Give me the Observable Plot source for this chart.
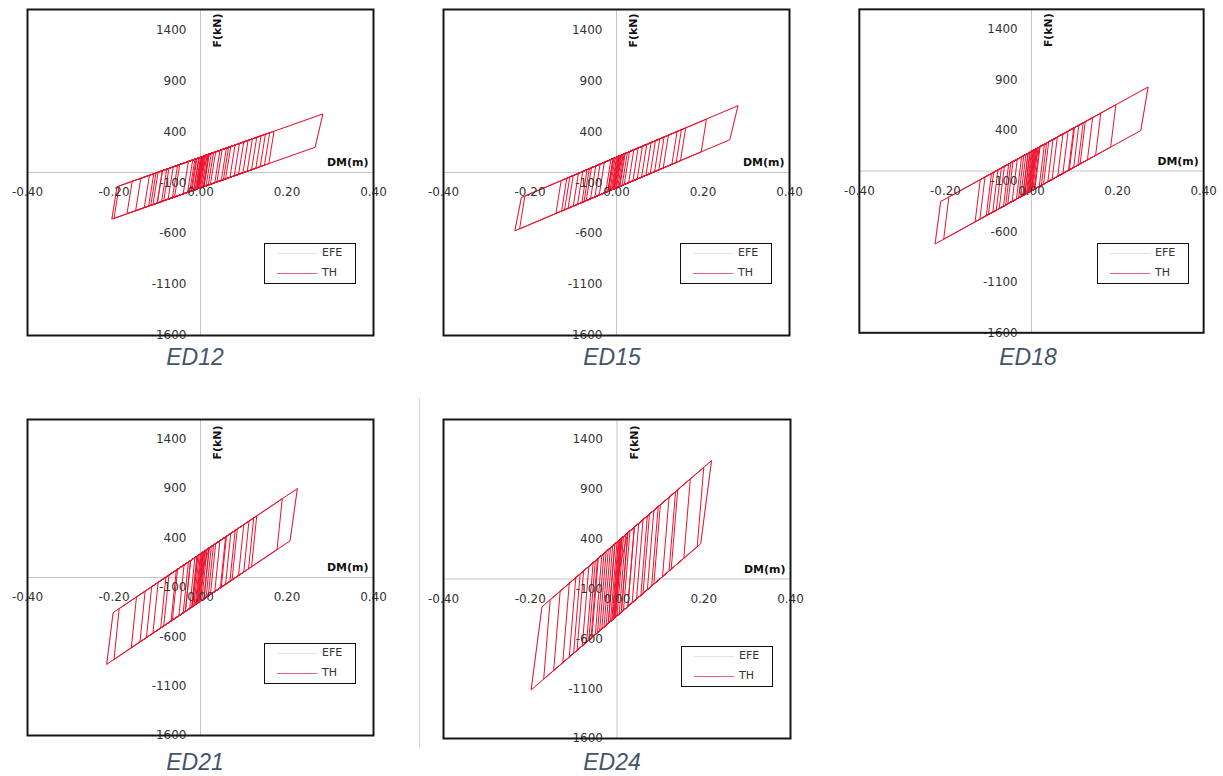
<!DOCTYPE html>
<html>
<head>
<meta charset="utf-8">
<script src="https://cdn.jsdelivr.net/npm/d3@7"></script>
<script src="https://cdn.jsdelivr.net/npm/@observablehq/plot@0.6"></script>
<style>
  html, body { margin: 0; padding: 0; background: #fff; width: 1223px; height: 776px; overflow: hidden; position: relative; }
  .panel { position: absolute; }
  .panel svg { overflow: visible; }
  .legend { position: absolute; width: 92px; height: 41px; border: 1.5px solid #111; box-sizing: border-box; background: #fff; font-family: "DejaVu Sans", sans-serif; font-size: 11px; color: #333; }
  .legend .row { position: absolute; left: 0; height: 14px; }
  .legend .ln { position: absolute; left: 12px; width: 40px; height: 0; }
  .legend .lbl { position: absolute; left: 57px; top: -7px; }
  .cap { position: absolute; font-family: "Liberation Sans", Arial, sans-serif; font-style: italic; font-size: 23px; color: #44546a; transform: translate(-50%, -50%); white-space: nowrap; }
  .edge { position: absolute; left: 419px; top: 398px; width: 0; height: 350px; border-left: 1px solid #d6d6d6; }
</style>
</head>
<body>
<div class="edge"></div>
<script>
// ---- axis ticks ----
const xTicks = [-0.4, -0.2, 0, 0.2, 0.4];
const yTicks = [1400, 900, 400, -100, -600, -1100, -1600];
const seriesNames = ["EFE", "TH"];
const panelNames = ["ED12", "ED15", "ED18", "ED21", "ED24"];

// ---- TH hysteresis vertices [DM (m), F (kN)] ----
const ED12_TH = [[0,0],[0.02,180],[0.008,-138],[-0.025,-188],[-0.013,130],[0.035,203],[0.023,-115],[-0.03,-195],[-0.018,123],[0.05,225],[0.038,-93],[-0.06,-240],[-0.048,78],[0.09,285],[0.078,-33],[-0.1,-300],[-0.088,18],[0.12,330],[0.108,12],[-0.13,-345],[-0.118,-27],[0.17,405],[0.158,87],[-0.2,-450],[-0.188,-132],[0.283,575],[0.265,248],[-0.11,-315],[-0.098,3],[0.16,390],[0.148,72],[-0.17,-405],[-0.158,-87],[0.14,360],[0.128,42],[-0.205,-458],[-0.193,-140],[0.11,315],[0.098,-3],[-0.15,-375],[-0.138,-57],[0.15,375],[0.138,57],[-0.12,-330],[-0.108,-12],[0.1,300],[0.088,-18],[-0.09,-285],[-0.078,33],[0.13,345],[0.118,27],[-0.1,-300],[-0.088,18],[0.07,255],[0.058,-63],[-0.065,-248],[-0.053,70],[0.06,240],[0.048,-78],[-0.04,-210],[-0.028,108],[0.03,195],[0.018,-123],[-0.02,-180],[-0.008,138],[0.02,180],[0.008,-138],[-0.015,-173],[-0.003,145],[0.015,173],[0.003,-145],[-0.01,-165],[0.002,153],
  [0.008,162],[-0.004,-156],[-0.006,-159],[0.006,159],[0.012,168],[0,-150],[-0.012,-168],[0,150],[0.006,159],[-0.006,-159],[-0.009,-164],[0.003,155],[0.018,177],[0.006,-141],[-0.016,-174],[-0.004,144],[0.045,218],[0.033,-101],[-0.075,-263],[-0.063,56],[0.08,270],[0.068,-48],[-0.115,-323],[-0.103,-5],[0.065,248],[0.053,-71],[-0.085,-278],[-0.073,41],[0.025,188],[0.013,-131],[-0.022,-183],[-0.01,135],[0.01,165],[-0.002,-153],[-0.008,-162],[0.004,156],[0.007,161],[-0.005,-158],[-0.007,-161],[0.005,158],[0.008,162]];

const ED15_TH = [[0,0],[0.02,186],[0.008,-136],[-0.02,-186],[-0.008,136],[0.04,222],[0.028,-100],[-0.05,-240],[-0.038,82],[0.07,276],[0.058,-46],[-0.08,-294],[-0.068,28],[0.11,348],[0.098,26],[-0.14,-402],[-0.128,-80],[0.16,438],[0.148,116],[-0.224,-553],[-0.212,-231],[0.281,656],[0.262,322],[-0.1,-330],[-0.088,-8],[0.208,524],[0.196,202],[-0.235,-573],[-0.22,-246],[0.15,420],[0.138,98],[-0.127,-379],[-0.115,-57],[0.12,366],[0.108,44],[-0.112,-352],[-0.1,-30],[0.14,402],[0.128,80],[-0.09,-312],[-0.078,10],[0.09,312],[0.078,-10],[-0.06,-258],[-0.048,64],[0.06,258],[0.048,-64],[-0.04,-222],[-0.028,100],[0.03,204],[0.018,-118],[-0.025,-195],[-0.013,127],[0.015,177],[0.003,-145],[-0.015,-177],[-0.003,145],[0.01,168],[-0.002,-154],
  [-0.008,-164],[0.004,157],[0.012,172],[0,-150],[-0.01,-168],[0.002,154],[0.006,161],[-0.006,-161],[-0.012,-172],[0,150],[0.018,182],[0.006,-139],[-0.018,-182],[-0.006,139],[0.05,240],[0.038,-82],[-0.07,-276],[-0.058,46],[0.1,330],[0.088,8],[-0.12,-366],[-0.108,-44],[0.08,294],[0.068,-28],[-0.075,-285],[-0.063,37],[0.025,195],[0.013,-127],[-0.02,-186],[-0.008,136],[0.008,164],[-0.004,-157],[-0.006,-161],[0.006,161],[0.009,166]];

const ED18_TH = [[0,0],[0.02,242],[0.008,-176],[-0.02,-242],[-0.008,176],[0.035,277],[0.023,-141],[-0.03,-266],[-0.018,152],[0.05,313],[0.038,-105],[-0.065,-348],[-0.053,70],[0.1,430],[0.088,12],[-0.12,-477],[-0.108,-59],[0.161,573],[0.149,155],[-0.204,-674],[-0.192,-256],[0.271,832],[0.254,402],[-0.09,-407],[-0.078,11],[0.196,656],[0.184,238],[-0.224,-721],[-0.211,-301],[0.142,529],[0.13,111],[-0.131,-503],[-0.119,-85],[0.125,489],[0.113,71],[-0.105,-442],[-0.093,-24],[0.12,477],[0.108,59],[-0.082,-388],[-0.07,30],[0.073,367],[0.061,-51],[-0.055,-324],[-0.043,94],[0.098,425],[0.086,7],[-0.035,-277],[-0.023,141],[0.03,266],[0.018,-152],[-0.02,-242],[-0.008,176],[0.015,230],[0.003,-188],[-0.015,-230],[-0.003,188],[0.012,223],[0,-195],[-0.01,-219],[0.002,199],
  [0.008,214],[-0.004,-204],[-0.008,-214],[0.004,204],[0.01,219],[-0.002,-200],[-0.012,-223],[0,195],[0.006,209],[-0.006,-209],[-0.016,-233],[-0.004,186],[0.018,237],[0.006,-181],[-0.045,-301],[-0.033,117],[0.06,336],[0.048,-82],[-0.1,-430],[-0.088,-12],[0.085,395],[0.073,-23],[-0.075,-371],[-0.063,47],[0.11,454],[0.098,35],[-0.06,-336],[-0.048,82],[0.04,289],[0.028,-129],[-0.025,-254],[-0.013,164],[0.012,223],[0,-195],[-0.006,-209],[0.006,209],[0.009,216]];

const ED21_TH = [[0,0],[0.02,299],[0.008,-216],[-0.02,-299],[-0.008,216],[0.035,343],[0.023,-172],[-0.035,-343],[-0.023,172],[0.058,411],[0.046,-104],[-0.068,-441],[-0.056,74],[0.085,491],[0.073,-24],[-0.11,-565],[-0.098,-50],[0.13,624],[0.118,109],[-0.16,-712],[-0.148,-197],[0.224,901],[0.207,371],[-0.2,-830],[-0.188,-315],[0.189,798],[0.177,283],[-0.217,-880],[-0.202,-356],[0.123,603],[0.111,88],[-0.125,-609],[-0.113,-94],[0.112,570],[0.1,55],[-0.092,-511],[-0.08,4],[0.08,476],[0.068,-39],[-0.065,-432],[-0.053,83],[0.06,417],[0.048,-98],[-0.035,-343],[-0.023,172],[0.03,329],[0.018,-186],[-0.025,-314],[-0.013,201],[0.015,284],[0.003,-231],[-0.015,-284],[-0.003,231],[0.01,270],[-0.002,-246],[-0.01,-270],[0.002,246],
  [0.008,264],[-0.004,-252],[-0.008,-264],[0.004,252],[0.012,275],[0,-240],[-0.012,-275],[0,240],[0.006,258],[-0.006,-258],[-0.018,-293],[-0.006,222],[0.02,299],[0.008,-216],[-0.05,-388],[-0.038,128],[0.07,447],[0.058,-69],[-0.085,-491],[-0.073,25],[0.1,535],[0.088,20],[-0.14,-653],[-0.128,-138],[0.045,373],[0.033,-143],[-0.04,-358],[-0.028,157],[0.025,314],[0.013,-202],[-0.02,-299],[-0.008,216],[0.006,258],[-0.006,-258],[-0.009,-267]];

const ED24_TH = [[0,0],[0.025,464],[0.01,-332],[-0.025,-464],[-0.01,332],[0.04,520],[0.025,-276],[-0.045,-539],[-0.03,257],[0.07,633],[0.055,-163],[-0.06,-595],[-0.045,201],[0.1,745],[0.085,-51],[-0.1,-745],[-0.085,51],[0.14,895],[0.125,99],[-0.146,-918],[-0.131,-122],[0.218,1188],[0.193,354],[-0.198,-1113],[-0.173,-279],[0.2,1120],[0.185,324],[-0.169,-1004],[-0.154,-208],[0.169,1004],[0.154,208],[-0.125,-839],[-0.11,-43],[0.12,820],[0.105,24],[-0.092,-715],[-0.077,81],[0.095,726],[0.08,-70],[-0.07,-633],[-0.055,163],[0.075,651],[0.06,-145],[-0.058,-588],[-0.043,209],[0.05,558],[0.035,-239],[-0.04,-520],[-0.025,276],[0.03,483],[0.015,-314],[-0.03,-483],[-0.015,314],[0.02,445],[0.005,-351],[-0.02,-445],[-0.005,351],[0.015,426],[0,-370],[-0.012,-415],[0.003,381],
  [0.01,408],[-0.005,-389],[-0.01,-408],[0.005,389],[0.008,400],[-0.007,-396],[-0.015,-426],[0,370],[0.012,415],[-0.003,-381],[-0.02,-445],[-0.005,351],[0.025,464],[0.01,-332],[-0.05,-558],[-0.035,239],[0.06,595],[0.045,-201],[-0.08,-670],[-0.065,126],[0.085,689],[0.07,-107],[-0.11,-783],[-0.095,14],[0.135,876],[0.12,80],[-0.065,-614],[-0.05,183],[0.04,520],[0.025,-276],[-0.035,-501],[-0.02,295],[0.01,408],[-0.005,-389],[-0.008,-400],[0.007,396],[0.01,408]];

// ---- EFE bilinear loops ----
const ED12_EFE = [[-0.205,-458],[-0.193,-140],[0.283,575],[0.265,248],[-0.205,-458]];
const ED15_EFE = [[-0.235,-573],[-0.22,-246],[0.281,656],[0.262,322],[-0.235,-573]];
const ED18_EFE = [[-0.224,-721],[-0.211,-301],[0.271,832],[0.254,402],[-0.224,-721]];
const ED21_EFE = [[-0.217,-880],[-0.202,-356],[0.224,901],[0.207,371],[-0.217,-880]];
const ED24_EFE = [[-0.198,-1113],[-0.173,-279],[0.218,1188],[0.193,354],[-0.198,-1113]];

const TH = [ED12_TH, ED15_TH, ED18_TH, ED21_TH, ED24_TH];
const EFE = [ED12_EFE, ED15_EFE, ED18_EFE, ED21_EFE, ED24_EFE];

// frame boxes (left, top, width, height) of each panel's plot area
const frames = [
  [27, 9, 346, 326],
  [443, 9, 346, 326],
  [859, 9, 347, 326],
  [27, 419, 346, 316],
  [443, 419, 347, 319]
];
const capPos = [[195, 357], [612, 357], [1028, 357], [195, 762], [612, 762]];

const M = 20;
const RED = "#f0102c";

frames.forEach(([fl, ft, fw, fh], i) => {
  const chart = Plot.plot({
    width: fw + 2 * M,
    height: fh + 2 * M,
    marginLeft: M, marginRight: M, marginTop: M, marginBottom: M,
    x: {domain: [-0.4, 0.4], axis: null},
    y: {domain: [-1600, 1600], axis: null},
    style: {fontFamily: "DejaVu Sans, sans-serif", fontSize: "12px", background: "transparent", overflow: "visible"},
    marks: [
      Plot.ruleX([0], {stroke: "#c4c4c4", strokeWidth: 1}),
      Plot.ruleY([0], {stroke: "#c4c4c4", strokeWidth: 1}),
      Plot.line(EFE[i], {x: d => d[0], y: d => d[1], stroke: "#dcdcdc", strokeWidth: 1}),
      Plot.line(TH[i], {x: d => d[0], y: d => d[1], stroke: RED, strokeWidth: 1}),
      Plot.text(yTicks, {x: 0, y: d => d, text: d => String(d), dx: -14, textAnchor: "end", fill: "#333", fontSize: 12}),
      Plot.text(xTicks, {x: d => d, y: 0, text: d => d.toFixed(2), dy: 20, fill: "#333", fontSize: 12}),
      Plot.text(["F(kN)"], {x: 0, frameAnchor: "top", dx: 13, dy: i < 3 ? 21 : 23, rotate: -90, fontWeight: "bold", fontSize: 11, fill: "#111"}),
      Plot.text(["DM(m)"], {y: 0, frameAnchor: "right", dx: -5, dy: -10, textAnchor: "end", fontWeight: "bold", fontSize: 11, fill: "#111"}),
      Plot.frame({stroke: "#161616", strokeWidth: 2})
    ]
  });
  const div = document.createElement("div");
  div.className = "panel";
  div.style.left = (fl - M) + "px";
  div.style.top = (ft - M) + "px";
  div.appendChild(chart);
  document.body.appendChild(div);

  // legend inside plot area (lower right)
  const lg = document.createElement("div");
  lg.className = "legend";
  lg.style.left = (fl + fw - 17 - 92) + "px";
  lg.style.top = (ft + fh - 51 - 41) + "px";
  const colors = ["#e2e2e2", "#f0607a"];
  seriesNames.forEach((name, k) => {
    const row = document.createElement("div");
    row.className = "row";
    row.style.top = (k === 0 ? 9 : 29) + "px";
    const ln = document.createElement("div");
    ln.className = "ln";
    ln.style.borderTop = "1.3px solid " + colors[k];
    const lb = document.createElement("div");
    lb.className = "lbl";
    lb.textContent = name;
    row.appendChild(ln);
    row.appendChild(lb);
    lg.appendChild(row);
  });
  document.body.appendChild(lg);

  const cap = document.createElement("div");
  cap.className = "cap";
  cap.style.left = capPos[i][0] + "px";
  cap.style.top = capPos[i][1] + "px";
  cap.textContent = panelNames[i];
  document.body.appendChild(cap);
});
</script>
</body>
</html>
